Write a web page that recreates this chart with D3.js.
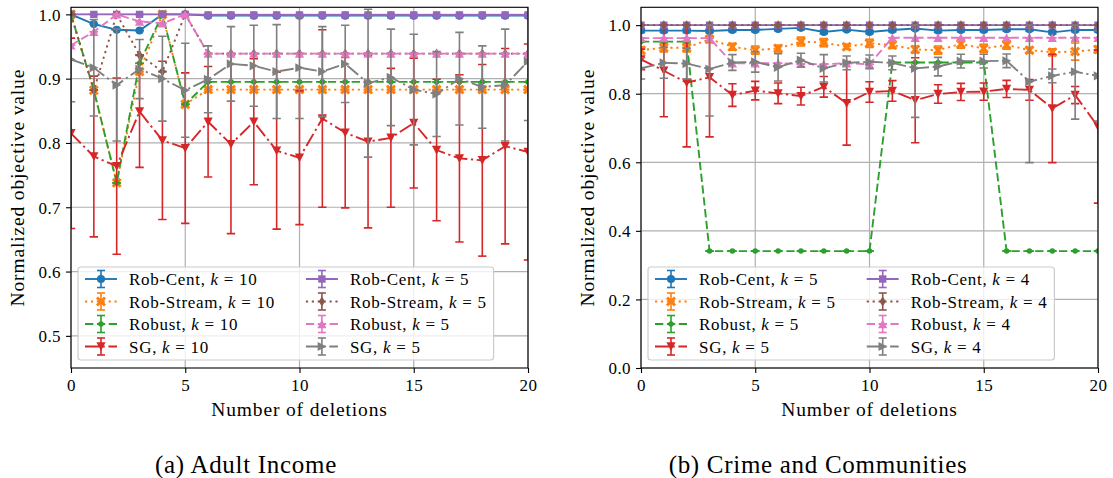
<!DOCTYPE html>
<html>
<head>
<meta charset="utf-8">
<script src="https://cdn.jsdelivr.net/npm/d3@7"></script>
<style>
  body { margin: 0; background: #fff; }
</style>
</head>
<body>
<div id="chart"></div>
<script>
const deletions = [0, 1, 2, 3, 4, 5, 6, 7, 8, 9, 10, 11, 12, 13, 14, 15, 16, 17, 18, 19, 20]
const xTickValues = [0, 5, 10, 15, 20]

// (a) Adult Income, k = 10 and k = 5
const adultRobCent10 = [1.0, 0.985, 0.976, 0.975, 1.0, 1.0, 0.998, 0.998, 0.998, 0.998, 0.998, 0.998, 0.998, 0.998, 0.998, 0.998, 0.998, 0.998, 0.998, 0.998, 0.998]
const adultRobStream10 = [1.0, 0.882, 0.738, 0.911, 1.0, 0.860, 0.883, 0.883, 0.883, 0.883, 0.883, 0.883, 0.883, 0.883, 0.883, 0.883, 0.883, 0.883, 0.883, 0.883, 0.883]
const adultRobust10 = [1.0, 0.882, 0.738, 0.924, 1.0, 0.860, 0.895, 0.895, 0.895, 0.895, 0.895, 0.895, 0.895, 0.895, 0.895, 0.895, 0.895, 0.895, 0.895, 0.895, 0.895]
const adultSG10 = [0.815, 0.779, 0.764, 0.849, 0.804, 0.792, 0.833, 0.798, 0.833, 0.788, 0.777, 0.838, 0.816, 0.802, 0.808, 0.831, 0.789, 0.776, 0.773, 0.795, 0.786]
const adultSG10Err = [0.148, 0.125, 0.137, 0.087, 0.123, 0.117, 0.086, 0.139, 0.098, 0.122, 0.104, 0.138, 0.117, 0.134, 0.108, 0.101, 0.110, 0.130, 0.149, 0.152, 0.168]
const adultRobCent5 = [1.0, 1.0, 1.0, 1.0, 1.0, 1.0, 0.999, 0.999, 0.999, 0.999, 0.999, 0.999, 0.999, 0.999, 0.999, 0.999, 0.999, 0.999, 0.999, 0.999, 0.999]
const adultRobStream5 = [1.0, 0.882, 1.0, 0.937, 0.911, 1.0, 0.939, 0.939, 0.939, 0.939, 0.939, 0.939, 0.939, 0.939, 0.939, 0.939, 0.939, 0.939, 0.939, 0.939, 0.939]
const adultRobust5 = [0.952, 0.973, 1.0, 0.989, 0.986, 1.0, 0.939, 0.939, 0.939, 0.939, 0.939, 0.939, 0.939, 0.939, 0.939, 0.939, 0.939, 0.939, 0.939, 0.939, 0.939]
const adultSG5 = [0.930, 0.917, 0.890, 0.915, 0.900, 0.882, 0.899, 0.923, 0.920, 0.911, 0.917, 0.911, 0.923, 0.893, 0.902, 0.883, 0.876, 0.900, 0.887, 0.890, 0.927]
const adultSG5Err = [0.066, 0.075, 0.087, 0.046, 0.066, 0.073, 0.052, 0.058, 0.063, 0.073, 0.079, 0.070, 0.060, 0.115, 0.075, 0.086, 0.066, 0.072, 0.064, 0.087, 0.092]

// (b) Crime and Communities, k = 5 and k = 4
const crimeRobCent5 = [0.984, 0.984, 0.984, 0.983, 0.986, 0.986, 0.989, 0.992, 0.980, 0.987, 0.980, 0.986, 0.990, 0.984, 0.986, 0.986, 0.988, 0.988, 0.979, 0.986, 0.986]
const crimeRobCent5Err = [0.005, 0.005, 0.005, 0.005, 0.005, 0.005, 0.005, 0.005, 0.005, 0.005, 0.005, 0.005, 0.005, 0.005, 0.005, 0.005, 0.005, 0.005, 0.005, 0.005, 0.005]
const crimeRobStream5 = [0.927, 0.934, 0.934, 0.959, 0.937, 0.927, 0.932, 0.952, 0.949, 0.937, 0.947, 0.942, 0.929, 0.927, 0.945, 0.932, 0.942, 0.927, 0.921, 0.923, 0.929]
const crimeRobStream5Err = [0.010, 0.012, 0.012, 0.010, 0.010, 0.012, 0.010, 0.013, 0.012, 0.008, 0.012, 0.010, 0.010, 0.012, 0.012, 0.012, 0.012, 0.008, 0.010, 0.025, 0.010]
const crimeRobust5 = [0.952, 0.952, 0.952, 0.341, 0.341, 0.341, 0.341, 0.341, 0.341, 0.341, 0.341, 0.891, 0.891, 0.891, 0.891, 0.891, 0.341, 0.341, 0.341, 0.341, 0.341]
const crimeSG5 = [0.900, 0.867, 0.832, 0.848, 0.796, 0.809, 0.801, 0.793, 0.820, 0.772, 0.805, 0.808, 0.781, 0.799, 0.805, 0.806, 0.814, 0.811, 0.757, 0.796, 0.704]
const crimeSG5Err = [0.030, 0.134, 0.187, 0.174, 0.033, 0.027, 0.030, 0.026, 0.030, 0.122, 0.030, 0.030, 0.124, 0.027, 0.025, 0.025, 0.025, 0.030, 0.158, 0.025, 0.223]
const crimeSG5ErrUp = [0.030, 0.133, 0.168, 0.152, 0.033, 0.027, 0.030, 0.026, 0.030, 0.122, 0.030, 0.030, 0.124, 0.027, 0.025, 0.025, 0.025, 0.030, 0.158, 0.025, 0.223]
const crimeRobCent4 = [1.0, 1.0, 1.0, 1.0, 1.0, 1.0, 1.0, 1.0, 1.0, 1.0, 1.0, 1.0, 1.0, 1.0, 1.0, 1.0, 1.0, 1.0, 1.0, 1.0, 1.0]
const crimeRobStream4 = [1.0, 1.0, 1.0, 1.0, 1.0, 1.0, 1.0, 1.0, 1.0, 1.0, 1.0, 1.0, 1.0, 1.0, 1.0, 1.0, 1.0, 1.0, 1.0, 1.0, 1.0]
const crimeRobust4 = [0.962, 0.962, 0.962, 0.962, 0.889, 0.889, 0.889, 0.887, 0.886, 0.889, 0.886, 0.963, 0.963, 0.963, 0.963, 0.963, 0.963, 0.963, 0.963, 0.963, 0.963]
const crimeSG4 = [0.874, 0.890, 0.888, 0.872, 0.891, 0.893, 0.877, 0.898, 0.874, 0.890, 0.893, 0.890, 0.874, 0.879, 0.895, 0.895, 0.896, 0.835, 0.852, 0.864, 0.852]
const crimeSG4Err = [0.031, 0.045, 0.045, 0.137, 0.023, 0.030, 0.040, 0.020, 0.040, 0.020, 0.020, 0.020, 0.143, 0.027, 0.020, 0.020, 0.020, 0.236, 0.020, 0.138, 0.132]
const crimeSG4ErrUp = [0.031, 0.045, 0.045, 0.128, 0.023, 0.030, 0.040, 0.020, 0.040, 0.020, 0.020, 0.020, 0.126, 0.027, 0.020, 0.020, 0.020, 0.165, 0.020, 0.136, 0.132]

const adultYTicks = [0.5, 0.6, 0.7, 0.8, 0.9, 1.0]
const crimeYTicks = [0.0, 0.2, 0.4, 0.6, 0.8, 1.0]

const width = 1113
const height = 478
const serif = '"Liberation Serif", "DejaVu Serif", serif'

const svg = d3.select('#chart').append('svg')
  .attr('width', width)
  .attr('height', height)
  .style('font-family', serif)

const dashes = {
  solid: null,
  dotted: '2.2,3.7',
  dashed: '8.3,3.6',
  dashdot: '14,3.6,2.2,3.6'
}

// marker paths, centred on 0,0
function markerPath(type) {
  switch (type) {
    case 'o': return d3.symbol(d3.symbolCircle, 52)()
    case 'p': return d3.symbol(d3.symbolCircle, 24)()
    case 's': return 'M-3.7,-3.7H3.7V3.7H-3.7Z'
    case 'd': return 'M0,-5L3.2,0L0,5L-3.2,0Z'
    case '^': return 'M0,-4.6L4.6,4.2L-4.6,4.2Z'
    case 'v': return 'M0,4.6L4.6,-4.2L-4.6,-4.2Z'
    case '>': return 'M4.6,0L-4.2,4.6L-4.2,-4.6Z'
    case 'X': {
      const L = 5.6, t = 1.5
      const pts = [[t, L], [t, t], [L, t], [L, -t], [t, -t], [t, -L], [-t, -L], [-t, -t], [-L, -t], [-L, t], [-t, t], [-t, L]]
      const c = Math.SQRT1_2
      return 'M' + pts.map(([a, b]) => [(a - b) * c, (a + b) * c].map(v => v.toFixed(2)).join(',')).join('L') + 'Z'
    }
  }
}

function makeSeries(ks, v) {
  return [
    { name: 'Rob-Cent', k: ks[0], values: v[0], err: v[1], color: '#1f77b4', marker: 'o', dash: dashes.solid },
    { name: 'Rob-Stream', k: ks[0], values: v[2], err: v[3], color: '#ff7f0e', marker: 'X', dash: dashes.dotted },
    { name: 'Robust', k: ks[0], values: v[4], err: null, color: '#2ca02c', marker: 'p', dash: dashes.dashed },
    { name: 'SG', k: ks[0], values: v[5], err: v[6], errUp: v[7], color: '#d62728', marker: 'v', dash: dashes.dashdot },
    { name: 'Rob-Cent', k: ks[1], values: v[8], err: null, color: '#9467bd', marker: 's', dash: dashes.solid },
    { name: 'Rob-Stream', k: ks[1], values: v[9], err: null, color: '#8c564b', marker: 'd', dash: dashes.dotted },
    { name: 'Robust', k: ks[1], values: v[10], err: null, color: '#e377c2', marker: '^', dash: dashes.dashed },
    { name: 'SG', k: ks[1], values: v[11], err: v[12], errUp: v[13], color: '#7f7f7f', marker: '>', dash: dashes.dashdot }
  ]
}

const panels = [
  {
    id: 'adult', left: 71, right: 528, top: 7.3, bottom: 368,
    yDomain: [0.45, 1.011], yTicks: adultYTicks, caption: '(a) Adult Income', captionX: 246,
    series: makeSeries([10, 5], [adultRobCent10, null, adultRobStream10, null, adultRobust10, adultSG10, adultSG10Err, null,
      adultRobCent5, adultRobStream5, adultRobust5, adultSG5, adultSG5Err, null])
  },
  {
    id: 'crime', left: 641, right: 1098, top: 7.3, bottom: 368,
    yDomain: [0, 1.052], yTicks: crimeYTicks, caption: '(b) Crime and Communities', captionX: 818,
    series: makeSeries([5, 4], [crimeRobCent5, crimeRobCent5Err, crimeRobStream5, crimeRobStream5Err, crimeRobust5, crimeSG5, crimeSG5Err, crimeSG5ErrUp,
      crimeRobCent4, crimeRobStream4, crimeRobust4, crimeSG4, crimeSG4Err, crimeSG4ErrUp])
  }
]

function drawErrorbar(g, s, pts, xScale, yScale) {
  const eg = g.append('g')
    .attr('stroke', s.color)
    .attr('stroke-width', 1.6)
  eg.selectAll('line.bar')
    .data(pts)
    .join('line')
    .attr('class', 'bar')
    .attr('x1', d => xScale(d.x))
    .attr('x2', d => xScale(d.x))
    .attr('y1', d => yScale(d.y - d.lo))
    .attr('y2', d => yScale(d.y + d.hi))
  eg.selectAll('line.cap')
    .data(pts.flatMap(d => [{ x: d.x, y: d.y - d.lo }, { x: d.x, y: d.y + d.hi }]))
    .join('line')
    .attr('class', 'cap')
    .attr('x1', d => xScale(d.x) - 4.2)
    .attr('x2', d => xScale(d.x) + 4.2)
    .attr('y1', d => yScale(d.y))
    .attr('y2', d => yScale(d.y))

  const line = d3.line()
    .x(d => xScale(d.x))
    .y(d => yScale(d.y))

  g.append('path')
    .attr('d', line(pts))
    .attr('fill', 'none')
    .attr('stroke', s.color)
    .attr('stroke-width', 1.9)
    .attr('stroke-dasharray', s.dash)

  g.selectAll(null)
    .data(pts)
    .join('path')
    .attr('d', markerPath(s.marker))
    .attr('transform', d => `translate(${xScale(d.x)},${yScale(d.y)})`)
    .attr('fill', s.color)
}

function drawPanel(p) {
  const g = svg.append('g').attr('class', 'panel-' + p.id)

  const xScale = d3.scaleLinear()
    .domain([0, 20])
    .range([p.left, p.right])

  const yScale = d3.scaleLinear()
    .domain(p.yDomain)
    .range([p.bottom, p.top])

  // grid
  g.append('g')
    .selectAll('line')
    .data(xTickValues)
    .join('line')
    .attr('x1', d => xScale(d))
    .attr('x2', d => xScale(d))
    .attr('y1', p.top)
    .attr('y2', p.bottom)
    .attr('stroke', '#b0b0b0')
    .attr('stroke-width', 1.2)

  g.append('g')
    .selectAll('line')
    .data(p.yTicks)
    .join('line')
    .attr('x1', p.left)
    .attr('x2', p.right)
    .attr('y1', d => yScale(d))
    .attr('y2', d => yScale(d))
    .attr('stroke', '#b0b0b0')
    .attr('stroke-width', 1.2)

  svg.append('clipPath')
    .attr('id', 'clip-' + p.id)
    .append('rect')
    .attr('x', p.left)
    .attr('y', p.top)
    .attr('width', p.right - p.left)
    .attr('height', p.bottom - p.top)

  const plot = g.append('g').attr('clip-path', `url(#clip-${p.id})`)

  p.series.forEach(s => {
    const pts = deletions.map((x, i) => {
      const lo = s.err ? s.err[i] : 0
      return { x: x, y: s.values[i], lo: lo, hi: s.errUp ? s.errUp[i] : lo }
    })
    drawErrorbar(plot.append('g'), s, pts, xScale, yScale)
  })

  // axes
  const xAxis = g.append('g')
    .attr('transform', `translate(0,${p.bottom})`)
    .call(d3.axisBottom(xScale).tickValues(xTickValues).tickSize(5).tickSizeOuter(0).tickPadding(6))
  const yAxis = g.append('g')
    .attr('transform', `translate(${p.left},0)`)
    .call(d3.axisLeft(yScale).tickValues(p.yTicks).tickFormat(d3.format('.1f')).tickSize(5).tickSizeOuter(0).tickPadding(5))

  ;[xAxis, yAxis].forEach(a => {
    a.attr('font-family', serif)
    a.select('.domain').remove()
    a.selectAll('.tick line').attr('stroke', '#000').attr('stroke-width', 1.1)
    a.selectAll('.tick text')
      .style('font-family', serif)
      .style('font-size', '17px')
      .style('letter-spacing', '0.4px')
      .attr('fill', '#000')
  })
  yAxis.selectAll('.tick text').attr('dy', '0.34em')
  xAxis.selectAll('.tick text').attr('dy', '0.72em')

  g.append('rect')
    .attr('x', p.left)
    .attr('y', p.top)
    .attr('width', p.right - p.left)
    .attr('height', p.bottom - p.top)
    .attr('fill', 'none')
    .attr('stroke', '#000')
    .attr('stroke-width', 1.1)

  g.append('text')
    .attr('x', (p.left + p.right) / 2)
    .attr('y', 416)
    .attr('text-anchor', 'middle')
    .style('font-family', serif)
    .style('font-size', '19.5px')
    .style('letter-spacing', '0.85px')
    .text('Number of deletions')

  g.append('text')
    .attr('transform', `translate(${p.left - 47},${(p.top + p.bottom) / 2}) rotate(-90)`)
    .attr('text-anchor', 'middle')
    .style('font-family', serif)
    .style('font-size', '19.5px')
    .style('letter-spacing', '0.85px')
    .text('Normalized objective value')

  g.append('text')
    .attr('x', p.captionX)
    .attr('y', 473)
    .attr('text-anchor', 'middle')
    .style('font-family', serif)
    .style('font-size', '25px')
    .style('letter-spacing', '0.7px')
    .text(p.caption)

  drawLegend(g, p)
}

function legendLabel(sel, s) {
  sel.append('tspan').text(s.name + ', ')
  sel.append('tspan').attr('font-style', 'italic').text('k')
  sel.append('tspan').text(' = ' + s.k)
}

function drawLegend(g, p) {
  const boxX = p.left + 7
  const boxTop = 267
  const rowY = [279, 301.5, 324, 346.5]
  const lg = g.append('g')
  const box = lg.append('rect')

  const cols = [p.series.slice(0, 4), p.series.slice(4)]
  let hx = boxX + 7
  let maxRight = 0
  cols.forEach(col => {
    let colWidth = 0
    col.forEach((s, i) => {
      const cy = rowY[i]
      const eg = lg.append('g')
      eg.append('line')
        .attr('x1', hx).attr('x2', hx + 32).attr('y1', cy).attr('y2', cy)
        .attr('stroke', s.color).attr('stroke-width', 1.9)
        .attr('stroke-dasharray', s.dash)
      eg.append('line')
        .attr('x1', hx + 16).attr('x2', hx + 16).attr('y1', cy - 8.5).attr('y2', cy + 8.5)
        .attr('stroke', s.color).attr('stroke-width', 1.6)
      ;[cy - 8.5, cy + 8.5].forEach(yy => {
        eg.append('line')
          .attr('x1', hx + 12).attr('x2', hx + 20).attr('y1', yy).attr('y2', yy)
          .attr('stroke', s.color).attr('stroke-width', 1.6)
      })
      eg.append('path')
        .attr('d', markerPath(s.marker))
        .attr('transform', `translate(${hx + 16},${cy})`)
        .attr('fill', s.color)
      const t = lg.append('text')
        .attr('x', hx + 44)
        .attr('y', cy + 6)
        .style('font-family', serif)
        .style('font-size', '17px')
        .style('letter-spacing', '0.7px')
      legendLabel(t, s)
      colWidth = Math.max(colWidth, t.node().getComputedTextLength())
    })
    maxRight = hx + 44 + colWidth
    hx = hx + 44 + colWidth + 31
  })

  box.attr('x', boxX)
    .attr('y', boxTop)
    .attr('width', maxRight + 7 - boxX)
    .attr('height', 93)
    .attr('rx', 3)
    .attr('fill', '#fff')
    .attr('fill-opacity', 0.8)
    .attr('stroke', '#cccccc')
    .attr('stroke-width', 1.2)
}

panels.forEach(drawPanel)
</script>
</body>
</html>
